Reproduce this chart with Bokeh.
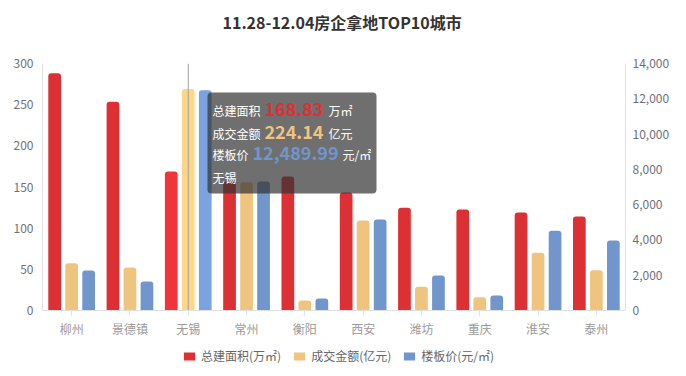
from bokeh.plotting import figure
from bokeh.models import (ColumnDataSource, FactorRange, Range1d, LinearAxis, FixedTicker,
                          NumeralTickFormatter, Legend, LegendItem, BoxAnnotation, Label, Title)
from bokeh.transform import dodge
from bokeh.embed import file_html
from bokeh.resources import INLINE

# ---- data ----
cities = ["柳州", "景德镇", "无锡", "常州", "衡阳", "西安", "潍坊", "重庆", "淮安", "泰州"]
area = [288.2, 253.5, 168.83, 156.7, 162.8, 143.3, 124.7, 122.7, 119.0, 114.2]       # 万㎡
amount = [47.9, 43.5, 224.14, 129.9, 10.1, 91.1, 24.0, 13.5, 58.4, 40.8]              # 亿元
price = [2267, 1644, 12489.99, 7312, 680, 5158, 1984, 850, 4517, 3968]                 # 元/㎡
series_names = ["总建面积(万㎡)", "成交金额(亿元)", "楼板价(元/㎡)"]
left_ticks = [0, 50, 100, 150, 200, 250, 300]
right_ticks = [0, 2000, 4000, 6000, 8000, 10000, 12000, 14000]
amount_max = 250
hovered = "无锡"
title_text = "11.28-12.04房企拿地TOP10城市"

FONT = "Noto Sans CJK SC"
normal_colors = ["#dc3035", "#efc47e", "#7096cb"]
emph_colors = ["#ef343c", "#fdd688", "#7ba3df"]

# layout geometry (pixels)
FRAME_H_DATA = 247      # pixel height of the 0..max value area
BOTTOM_PAD = 66         # pixels below the zero line (axis labels + legend live here)
ext = BOTTOM_PAD / FRAME_H_DATA  # fraction of range extended below zero

lmax, rmax = left_ticks[-1], right_ticks[-1]
p = figure(x_range=FactorRange(factors=cities, range_padding=0),
           y_range=Range1d(-lmax * ext, lmax),
           frame_width=583, frame_height=FRAME_H_DATA + BOTTOM_PAD,
           min_border_left=42, min_border_right=61, min_border_top=63, min_border_bottom=0,
           output_backend="svg", toolbar_location=None, tools="")
p.extra_y_ranges = {"amount": Range1d(-amount_max * ext, amount_max),
                    "price": Range1d(-rmax * ext, rmax)}
p.outline_line_color = None
p.xgrid.grid_line_color = None
p.ygrid.grid_line_color = None

# spacer (closest to frame) then the real title
p.add_layout(Title(text=" ", text_font=FONT, text_font_size="9px"), "above")
title = Title(text=title_text, align="left", offset=180, text_font=FONT, text_font_size="16px",
              text_font_style="bold", text_color="#333333")
p.add_layout(title, "above")

# left axis
ya = p.yaxis[0]
ya.ticker = FixedTicker(ticks=left_ticks)
ya.bounds = (0, lmax)
ya.axis_line_color = "#e0e0e0"
ya.major_tick_line_color = None
ya.minor_tick_line_color = None
ya.major_tick_out = 0
ya.major_label_standoff = 9
ya.major_label_text_font = FONT
ya.major_label_text_font_size = "12px"
ya.major_label_text_color = "#6e7079"

# right axis
ra = LinearAxis(y_range_name="price", ticker=FixedTicker(ticks=right_ticks),
                formatter=NumeralTickFormatter(format="0,0"), bounds=(0, rmax))
ra.axis_line_color = "#e0e0e0"
ra.major_tick_line_color = None
ra.minor_tick_line_color = None
ra.major_tick_out = 0
ra.major_label_standoff = 7
ra.major_label_text_font = FONT
ra.major_label_text_font_size = "12px"
ra.major_label_text_color = "#6e7079"
p.add_layout(ra, "right")

# x axis (sits on the zero line)
xa = p.xaxis[0]
xa.fixed_location = 0
xa.axis_line_color = "#e0e0e0"
xa.major_tick_line_color = "#e0e0e0"
xa.major_tick_out = 5
xa.major_tick_in = 0
xa.major_label_standoff = 4
xa.major_label_text_font = FONT
xa.major_label_text_font_size = "12px"
xa.major_label_text_color = "#9a9a9a"

# axis pointer on the hovered category
p.segment(x0=[hovered], y0=[0], x1=[hovered], y1=[lmax], line_color="#a0a0a0", line_width=1)

# bars
values = [area, amount, price]
ranges = ["default", "amount", "price"]
offsets = [-0.2916, 0.0, 0.2916]
items = []
for i in range(3):
    cols = [emph_colors[i] if c == hovered else normal_colors[i] for c in cities]
    src = ColumnDataSource(dict(city=cities, val=values[i], color=cols))
    r = p.vbar(x=dodge("city", offsets[i], range=p.x_range), top="val", bottom=0, width=0.218,
               source=src, fill_color="color", line_color=None, y_range_name=ranges[i],
               border_radius=(3, 3, 0, 0))
    items.append(LegendItem(label=series_names[i], renderers=[r], index=0))
# keep the pointer line above the bars
p.renderers.append(p.renderers.pop(0))

legend = Legend(items=items, orientation="horizontal", location=(140, 12),
                glyph_width=14, glyph_height=10, label_standoff=5, spacing=11,
                label_height=10, label_width=10,
                padding=0, margin=0, border_line_color=None, background_fill_alpha=0,
                label_text_font=FONT, label_text_font_size="12px", label_text_color="#666666")
p.add_layout(legend, "center")

# tooltip overlay
def fx(px):
    return (px - 42) / 58.3

def fy(py):
    return (310 - py) * lmax / FRAME_H_DATA

p.add_layout(BoxAnnotation(left=fx(207), right=fx(376), top=fy(92), bottom=fy(193),
                           fill_color="#323232", fill_alpha=0.7, line_color=None,
                           border_radius=4))

h = cities.index(hovered)
tip_rows = [
    ("总建面积", f"{area[h]:,.2f}", "万㎡", normal_colors[0], 110, 264, 328),
    ("成交金额", f"{amount[h]:,.2f}", "亿元", normal_colors[1], 133, 264, 328),
    ("楼板价", f"{price[h]:,.2f}", "元/㎡", normal_colors[2], 154, 252, 342),
]
for lab, num, unit, col, yc, xnum, xunit in tip_rows:
    p.add_layout(Label(x=fx(212), y=fy(yc), text=lab, text_font=FONT, text_font_size="12px",
                       text_color="white", text_baseline="middle", text_align="left"))
    p.add_layout(Label(x=fx(xnum), y=fy(yc - 1.5), text=num, text_font=FONT, text_font_size="18px",
                       text_font_style="bold", text_color=col, text_baseline="middle",
                       text_align="left"))
    p.add_layout(Label(x=fx(xunit), y=fy(yc), text=unit, text_font=FONT, text_font_size="12px",
                       text_color="white", text_baseline="middle", text_align="left"))
p.add_layout(Label(x=fx(212), y=fy(177), text=hovered, text_font=FONT, text_font_size="12px",
                   text_color="white", text_baseline="middle", text_align="left"))

open("out.html", "w").write(file_html(p, INLINE))
